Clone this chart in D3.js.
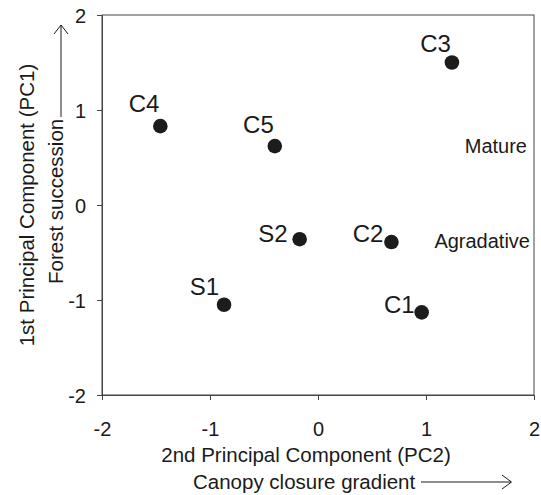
<!DOCTYPE html>
<html><head><meta charset="utf-8">
<script src="https://cdn.jsdelivr.net/npm/d3@7"></script>
<style>
body{margin:0;background:#fff}
svg{display:block}
text{font-family:"Liberation Sans",Arial,Helvetica,sans-serif;fill:#1a1a1a}
</style>
</head><body><svg id="chart" width="541" height="495"></svg>
<script>
// ---- data ----
const sites = ["C1", "C2", "C3", "C4", "C5", "S1", "S2"];
const pc2Values = [0.96, 0.68, 1.24, -1.46, -0.40, -0.87, -0.17];
const pc1Values = [-1.13, -0.39, 1.50, 0.83, 0.62, -1.05, -0.36];
const xTickValues = [-2, -1, 0, 1, 2];
const yTickValues = [-2, -1, 0, 1, 2];
const stageNames = ["Mature", "Agradative"];
const stagePc2 = [1.935, 1.963];
const stagePc1 = [0.544, -0.456];

// ---- layout (not data) ----
const labelOffsets = { C1: [-7, 1], C2: [-8, 0], C3: [-1, -11], C4: [-1, -14], C5: [-1, -13], S1: [-5, -10], S2: [-12, 3] };
const plot = { left: 102, right: 534, top: 15, bottom: 395 };
const axisColor = "#444";
const dotColor = "#1c1c1c";

const svg = d3.select("#chart");
const x = d3.scaleLinear().domain([-2, 2]).range([plot.left, plot.right]);
const y = d3.scaleLinear().domain([-2, 2]).range([plot.bottom, plot.top]);

// frame
svg.append("rect")
  .attr("x", plot.left).attr("y", plot.top)
  .attr("width", plot.right - plot.left).attr("height", plot.bottom - plot.top)
  .attr("fill", "none").attr("stroke", axisColor).attr("stroke-width", 1);

// axes
const xAxis = svg.append("g")
  .attr("transform", `translate(0,${plot.bottom})`)
  .call(d3.axisBottom(x).tickValues(xTickValues).tickFormat(d3.format("d")).tickSize(5).tickSizeOuter(0).tickPadding(22));
const yAxis = svg.append("g")
  .attr("transform", `translate(${plot.left},0)`)
  .call(d3.axisLeft(y).tickValues(yTickValues).tickFormat(d3.format("d")).tickSize(5).tickSizeOuter(0).tickPadding(11));
[xAxis, yAxis].forEach(g => {
  g.select(".domain").attr("stroke", axisColor);
  g.selectAll(".tick line").attr("stroke", axisColor);
  g.selectAll(".tick text").attr("fill", "#1a1a1a").style("font-size", "20px")
    .style("font-family", '"Liberation Sans",Arial,sans-serif');
});
yAxis.selectAll(".tick text").attr("dy", "0.36em");
// d3 uses unicode minus; keep a hyphen-like look as in reference
xAxis.selectAll(".tick text").text(d => String(d));
yAxis.selectAll(".tick text").text(d => String(d));

// points
const pts = sites.map((s, i) => ({ site: s, px: pc2Values[i], py: pc1Values[i] }));
svg.append("g").selectAll("circle").data(pts).join("circle")
  .attr("cx", d => x(d.px)).attr("cy", d => y(d.py)).attr("r", 7.3)
  .attr("fill", dotColor);

svg.append("g").selectAll("text").data(pts).join("text")
  .attr("x", d => x(d.px) + labelOffsets[d.site][0])
  .attr("y", d => y(d.py) + labelOffsets[d.site][1])
  .attr("text-anchor", "end")
  .style("font-size", "24px")
  .text(d => d.site);

// stage annotations
svg.append("g").selectAll("text").data(stageNames).join("text")
  .attr("x", (d, i) => x(stagePc2[i]))
  .attr("y", (d, i) => y(stagePc1[i]))
  .attr("text-anchor", "end")
  .style("font-size", "20px")
  .text(d => d);

// x axis titles
svg.append("text")
  .attr("x", 306).attr("y", 462)
  .attr("text-anchor", "middle")
  .style("font-size", "20.5px")
  .text("2nd Principal Component (PC2)");
svg.append("text")
  .attr("x", 193).attr("y", 489)
  .attr("text-anchor", "start")
  .style("font-size", "20.5px")
  .text("Canopy closure gradient");
svg.append("line")
  .attr("x1", 421).attr("y1", 482).attr("x2", 511).attr("y2", 482)
  .attr("stroke", "#1a1a1a").attr("stroke-width", 1);
svg.append("path")
  .attr("d", "M502,475 L511.5,482 L502,489")
  .attr("fill", "none").attr("stroke", "#1a1a1a").attr("stroke-width", 1);

// y axis titles
svg.append("text")
  .attr("transform", "translate(34,205) rotate(-90)")
  .attr("text-anchor", "middle")
  .style("font-size", "20.5px")
  .text("1st Principal Component (PC1)");
svg.append("text")
  .attr("transform", "translate(63,284) rotate(-90)")
  .attr("text-anchor", "start")
  .style("font-size", "20.5px")
  .text("Forest succession");
svg.append("line")
  .attr("x1", 61).attr("y1", 117).attr("x2", 61).attr("y2", 25)
  .attr("stroke", "#1a1a1a").attr("stroke-width", 1);
svg.append("path")
  .attr("d", "M54,34 L61,25 L68,34")
  .attr("fill", "none").attr("stroke", "#1a1a1a").attr("stroke-width", 1);
</script>
</body></html>
